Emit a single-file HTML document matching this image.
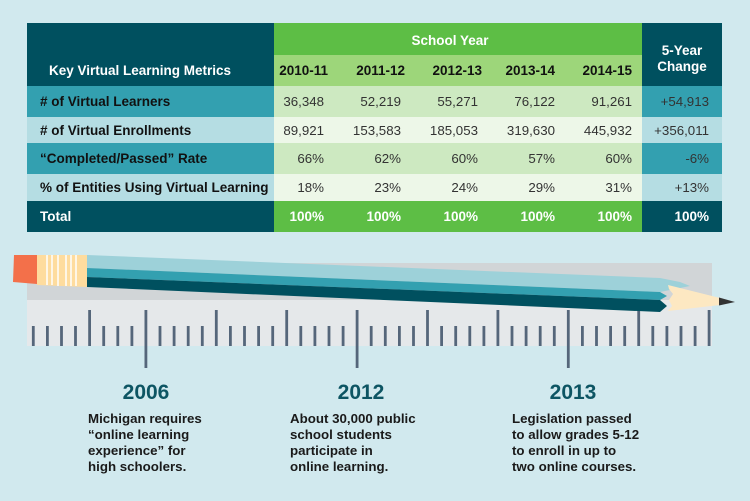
<!DOCTYPE html>
<html><head><meta charset="utf-8"><style>
html,body{margin:0;padding:0;background:#d1e9ee;}
svg{display:block;font-family:"Liberation Sans",Arial,sans-serif;}
</style></head><body>
<svg width="750" height="501" viewBox="0 0 750 501" xmlns="http://www.w3.org/2000/svg">
<rect width="750" height="501" fill="#d1e9ee"/>
<rect x="27" y="23" width="247" height="63" fill="#00505f"/>
<rect x="274" y="23" width="368" height="32" fill="#5dbe45"/>
<rect x="274" y="55" width="368" height="31" fill="#9dd67a"/>
<rect x="642" y="23" width="80" height="63" fill="#00505f"/>
<rect x="27" y="86" width="247" height="31" fill="#33a0b0"/>
<rect x="274" y="86" width="368" height="31" fill="#cde9c1"/>
<rect x="642" y="86" width="80" height="31" fill="#33a0b0"/>
<rect x="27" y="117" width="247" height="26" fill="#b5dde3"/>
<rect x="274" y="117" width="368" height="26" fill="#edf7e8"/>
<rect x="642" y="117" width="80" height="26" fill="#b5dde3"/>
<rect x="27" y="143" width="247" height="31" fill="#33a0b0"/>
<rect x="274" y="143" width="368" height="31" fill="#cde9c1"/>
<rect x="642" y="143" width="80" height="31" fill="#33a0b0"/>
<rect x="27" y="174" width="247" height="27" fill="#b5dde3"/>
<rect x="274" y="174" width="368" height="27" fill="#edf7e8"/>
<rect x="642" y="174" width="80" height="27" fill="#b5dde3"/>
<rect x="27" y="201" width="247" height="31" fill="#00505f"/>
<rect x="274" y="201" width="368" height="31" fill="#5dbe45"/>
<rect x="642" y="201" width="80" height="31" fill="#00505f"/>

<g font-weight="bold" font-size="13.5">
<text x="49" y="75" fill="#fff">Key Virtual Learning Metrics</text>
<text x="450" y="45" fill="#fff" text-anchor="middle">School Year</text>
<text x="682" y="55" fill="#fff" text-anchor="middle">5-Year</text>
<text x="682" y="71" fill="#fff" text-anchor="middle">Change</text>
<g fill="#111" text-anchor="end">
<text x="328" y="75">2010-11</text><text x="405" y="75">2011-12</text><text x="482" y="75">2012-13</text><text x="555" y="75">2013-14</text><text x="632" y="75">2014-15</text>
</g>
<g fill="#111">
<text x="40" y="106">&#35; of Virtual Learners</text>
<text x="40" y="135">&#35; of Virtual Enrollments</text>
<text x="40" y="163">“Completed/Passed” Rate</text>
<text x="40" y="192">% of Entities Using Virtual Learning</text>
</g>
<text x="40" y="221" fill="#fff">Total</text>
<g fill="#fff" text-anchor="end">
<text x="324" y="221">100%</text><text x="401" y="221">100%</text><text x="478" y="221">100%</text><text x="555" y="221">100%</text><text x="632" y="221">100%</text><text x="709" y="221">100%</text>
</g>
</g>
<g font-size="13.3" fill="#333" text-anchor="end">
<text x="324" y="106">36,348</text><text x="401" y="106">52,219</text><text x="478" y="106">55,271</text><text x="555" y="106">76,122</text><text x="632" y="106">91,261</text><text x="709" y="106">+54,913</text>
<text x="324" y="135">89,921</text><text x="401" y="135">153,583</text><text x="478" y="135">185,053</text><text x="555" y="135">319,630</text><text x="632" y="135">445,932</text><text x="709" y="135">+356,011</text>
<text x="324" y="163">66%</text><text x="401" y="163">62%</text><text x="478" y="163">60%</text><text x="555" y="163">57%</text><text x="632" y="163">60%</text><text x="709" y="163">-6%</text>
<text x="324" y="192">18%</text><text x="401" y="192">23%</text><text x="478" y="192">24%</text><text x="555" y="192">29%</text><text x="632" y="192">31%</text><text x="709" y="192">+13%</text>
</g>

<rect x="27" y="263" width="685" height="37" fill="#d1d5d7"/>
<rect x="27" y="300" width="685" height="46" fill="#e5e8ea"/>
<g fill="#55667a" id="ticks"></g>

<polygon points="87,255 660,278 680,282 690,286 660,292 87,268" fill="#9dd1d9"/>
<polygon points="87,268 660,292 667,296 660,300 87,277" fill="#33a0b0"/>
<polygon points="87,277 660,300 667,306 660,312 87,287" fill="#00505f"/>
<polygon points="668,285 720,298 720,305 668,311 672,306 669,300 673,294 669,289" fill="#fde8c2"/>
<polygon points="719,297.5 735,302 719,305.5" fill="#333"/>
<polygon points="37,255 87,255 87,287 37,285" fill="#fedc9e"/>
<g stroke="#fff" stroke-width="1.5">
<line x1="47" y1="255" x2="47" y2="285"/><line x1="52" y1="255" x2="52" y2="285"/><line x1="58" y1="255" x2="58" y2="286"/><line x1="66" y1="255" x2="66" y2="286"/><line x1="71" y1="255" x2="71" y2="286"/><line x1="76" y1="255" x2="76" y2="286"/>
</g>
<polygon points="14,255 37,255 37,284 13,282" fill="#f3704a"/>

<g font-weight="bold">
<text x="146" y="399" font-size="21" fill="#0d5563" text-anchor="middle">2006</text>
<text x="361" y="399" font-size="21" fill="#0d5563" text-anchor="middle">2012</text>
<text x="573" y="399" font-size="21" fill="#0d5563" text-anchor="middle">2013</text>
<g font-size="13.3" fill="#1a1a1a">
<text x="88" y="423">Michigan requires</text><text x="88" y="439">“online learning</text><text x="88" y="455">experience” for</text><text x="88" y="471">high schoolers.</text>
<text x="290" y="423">About 30,000 public</text><text x="290" y="439">school students</text><text x="290" y="455">participate in</text><text x="290" y="471">online learning.</text>
<text x="512" y="423">Legislation passed</text><text x="512" y="439">to allow grades 5-12</text><text x="512" y="455">to enroll in up to</text><text x="512" y="471">two online courses.</text>
</g>
</g>
</svg>
<script>
(function(){
var g=document.getElementById('ticks');var ns='http://www.w3.org/2000/svg';
var med=[4,13,18,28,33,43,48],lng=[8,23,38];
for(var i=0;i<49;i++){var x=33.3+14.08*i;var y1=326,y2=346;
if(med.indexOf(i)>=0){y1=310;} if(lng.indexOf(i)>=0){y1=310;y2=368;}
var r=document.createElementNS(ns,'rect');r.setAttribute('x',(x-1.4).toFixed(1));r.setAttribute('y',y1);r.setAttribute('width',2.8);r.setAttribute('height',y2-y1);g.appendChild(r);}
})();
</script>
</body></html>
